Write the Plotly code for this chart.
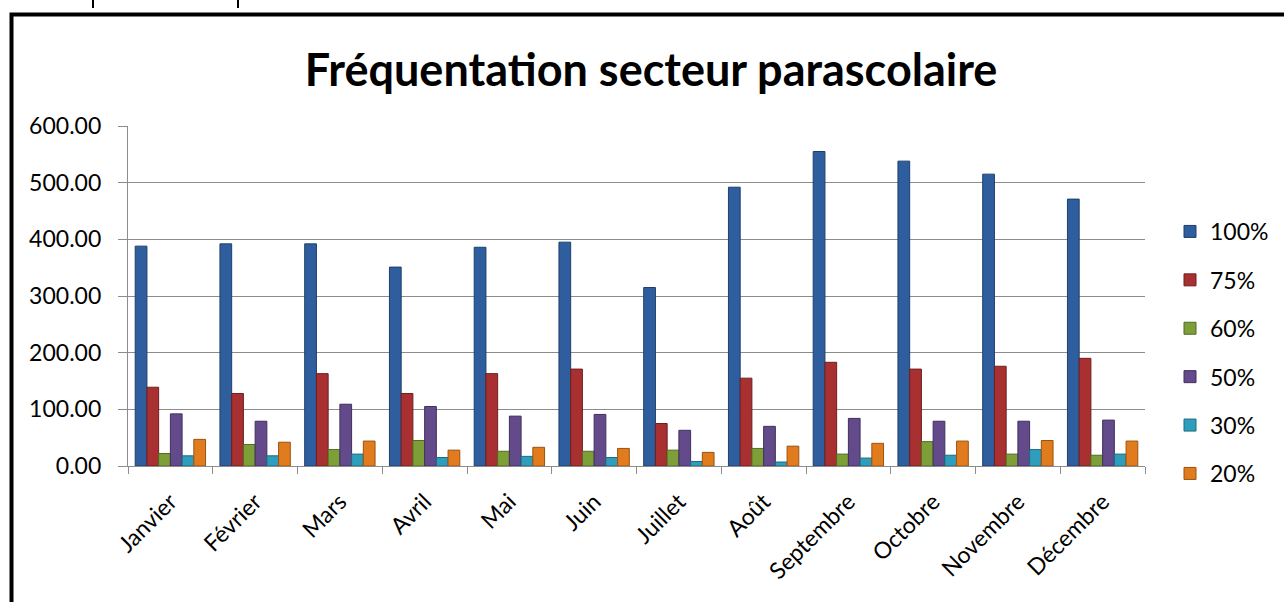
import plotly.graph_objects as go

months = ["Janvier", "Février", "Mars", "Avril", "Mai", "Juin", "Juillet",
          "Août", "Septembre", "Octobre", "Novembre", "Décembre"]

s100 = [388, 392, 392, 351, 386, 395, 315, 492, 555, 538, 515, 471]
s75 = [139, 128, 163, 128, 163, 171, 75, 155, 183, 171, 176, 190]
s60 = [22, 38, 29, 45, 26, 26, 28, 31, 21, 43, 21, 19]
s50 = [92, 79, 109, 105, 88, 91, 63, 70, 84, 79, 79, 81]
s30 = [18, 18, 21, 15, 17, 15, 8, 7, 14, 19, 29, 21]
s20 = [47, 42, 44, 28, 33, 31, 24, 35, 40, 44, 45, 44]

series_names = ["100%", "75%", "60%", "50%", "30%", "20%"]
series_values = [s100, s75, s60, s50, s30, s20]
fill_colors = ["#2F5E9E", "#A83030", "#7E9F38", "#624A8B", "#2E9EBC", "#E07C1E"]
line_colors = ["#1F3F6B", "#6E1F1F", "#536B25", "#40305C", "#1E6A7E", "#9A5310"]

FONT = "Lato"
fig = go.Figure()
for name, vals, fc, lc in zip(series_names, series_values, fill_colors, line_colors):
    fig.add_trace(go.Bar(
        x=months, y=vals, name=name, legendgroup=name,
        marker=dict(color=fc, line=dict(color=lc, width=1)),
    ))

W, H = 1284, 602
L, R, T, B = 128, 139, 126, 136
pw, ph = W - L - R, H - T - B

def px_x(p):
    return (p - L) / pw

def px_y(p):
    return (H - B - p) / ph

fig.update_layout(
    width=W, height=H,
    margin=dict(l=L, r=R, t=T, b=B, autoexpand=False),
    paper_bgcolor="white", plot_bgcolor="white",
    barmode="group", bargap=0.17, bargroupgap=0.0,
    title=dict(text="<b>Fréquentation secteur parascolaire</b>",
               x=651 / W, xanchor="center", y=1 - 70 / H, yanchor="middle",
               font=dict(family=FONT, size=45, color="black")),
    font=dict(family=FONT, size=23, color="black"),
    legend=dict(x=px_x(1170), xanchor="left", y=px_y(210), yanchor="top",
                font=dict(family=FONT, size=23, color="black"),
                tracegroupgap=15.5, bgcolor="rgba(0,0,0,0)"),
    xaxis=dict(showline=True, linecolor="#8C8C8C", linewidth=1.3,
               ticks="outside", tickson="boundaries", ticklen=7,
               tickcolor="#8C8C8C", tickwidth=1.3, tickangle=-45,
               tickfont=dict(family=FONT, size=23, color="black"),
               showgrid=False, automargin=False, ticklabelstandoff=12),
    yaxis=dict(range=[0, 600], dtick=100, tickformat=".2f",
               showline=True, linecolor="#8C8C8C", linewidth=1.3,
               ticks="outside", ticklen=9, tickcolor="#8C8C8C", tickwidth=1.3,
               showgrid=True, gridcolor="#8C8C8C", gridwidth=1.3,
               zeroline=False, ticklabelstandoff=12, automargin=False,
               tickfont=dict(family=FONT, size=23, color="black")),
)

# outer chart frame (cropped by the image edge on the right and bottom)
fig.add_shape(type="rect", xref="paper", yref="paper",
              x0=px_x(11.5), x1=px_x(1320), y0=px_y(640), y1=px_y(14.5),
              line=dict(color="black", width=4), fillcolor="rgba(0,0,0,0)",
              layer="above")
# fragments of cropped text above the frame
for xp in (93, 238):
    fig.add_shape(type="line", xref="paper", yref="paper",
                  x0=px_x(xp), x1=px_x(xp), y0=px_y(0), y1=px_y(8),
                  line=dict(color="black", width=2))

fig.write_html("out.html",
               config={"displayModeBar": False},
               post_script="document.body.style.margin='0';document.body.style.overflow='hidden';")
